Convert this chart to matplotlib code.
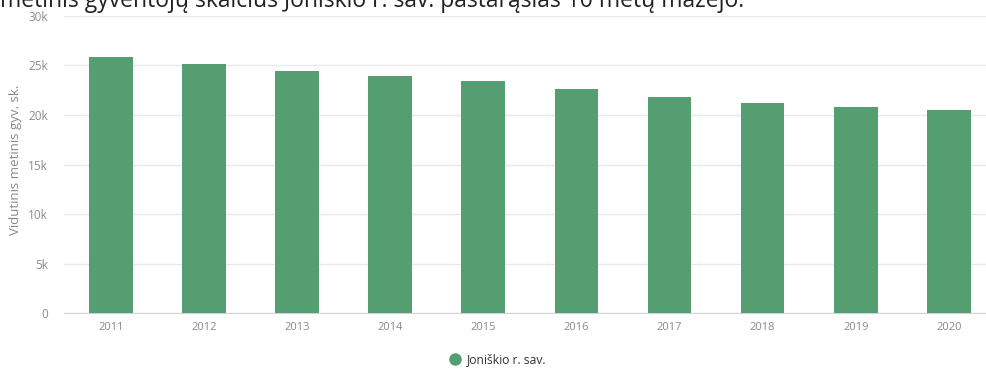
import matplotlib
matplotlib.use('Agg')
import matplotlib.pyplot as plt
from matplotlib.lines import Line2D
from matplotlib.ticker import FuncFormatter

# Vidutinis metinis gyventojų skaičius
metai = ['2011', '2012', '2013', '2014', '2015', '2016', '2017', '2018', '2019', '2020']
gyventojai = [25870, 25100, 24430, 23950, 23390, 22610, 21840, 21200, 20830, 20490]
serija = 'Joniškio r. sav.'
pavadinimas = 'metinis gyventojų skaičius Joniškio r. sav. pastarąsias 10 metų mažėjo.'
y_pavadinimas = 'Vidutinis metinis gyv. sk.'

spalva = '#549e72'
plt.rcParams['font.family'] = ['Open Sans', 'DejaVu Sans']

fig = plt.figure(figsize=(9.86, 3.76), dpi=100)
ax = fig.add_axes([0.0654, 0.1667, 0.944, 0.7915])

x = range(len(metai))
ax.bar(x, gyventojai, width=0.47, color=spalva, zorder=3)

ax.set_xlim(-0.5, len(metai) - 0.5)
ax.set_ylim(0, 30000)
ax.set_yticks(range(0, 30001, 5000))
ax.yaxis.set_major_formatter(FuncFormatter(lambda v, p: '0' if v == 0 else f'{int(v / 1000)}k'))
ax.set_xticks(list(x))
ax.set_xticklabels(metai)

ax.grid(axis='y', color='#e9e9e9', linewidth=1, zorder=0)
for s in ['top', 'right', 'left']:
    ax.spines[s].set_visible(False)
ax.spines['bottom'].set_color('#cfd3da')
ax.tick_params(axis='both', length=0, colors='#8a8a8a')
ax.tick_params(axis='y', pad=12, labelsize=8.5)
ax.tick_params(axis='x', pad=6, labelsize=8)

# Ašies pavadinimas
fig.text(16 / 986, 1 - 160 / 376, y_pavadinimas, rotation=90, ha='center', va='center',
         fontsize=9.5, color='#8a8a8a')

# Antraštė (viršutinė dalis už paveikslo ribų)
fig.text(0.0, 1 - 7 / 376, pavadinimas, ha='left', va='baseline', fontsize=16.5, color='#222222')

# Legenda
rankena = Line2D([], [], marker='o', color=spalva, linestyle='', markersize=8)
fig.legend(handles=[rankena], labels=[serija], loc='center', bbox_to_anchor=(495 / 986, 1 - 360 / 376),
           frameon=False, fontsize=8.75, handletextpad=0.0, labelcolor='#333333')

fig.savefig('out.png', dpi=100)
